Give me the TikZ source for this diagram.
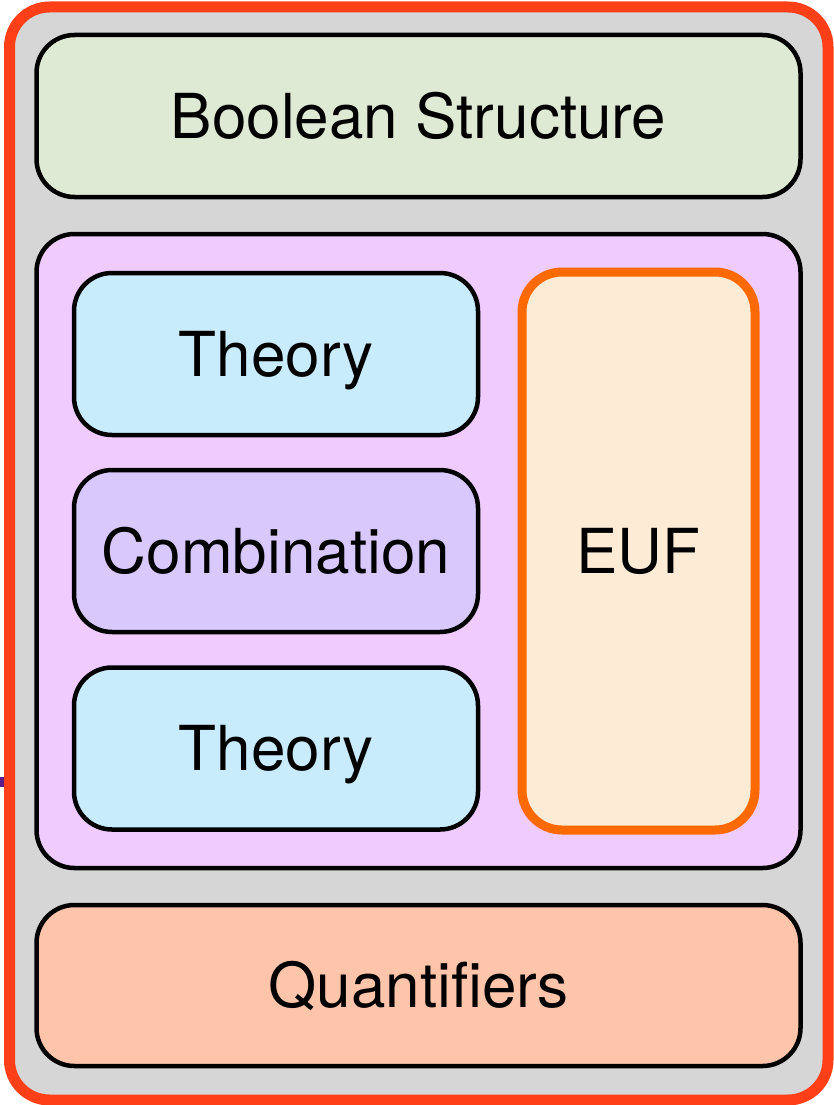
\documentclass[tikz,border=0pt]{standalone}
\usepackage{fontspec}
\setmainfont{TeX Gyre Heros}
\definecolor{framered}{HTML}{FF3F17}
\definecolor{framegray}{HTML}{D6D6D6}
\definecolor{boolgreen}{HTML}{DFEAD5}
\definecolor{theorypink}{HTML}{F0CCFE}
\definecolor{theorycyan}{HTML}{C8ECFB}
\definecolor{combviolet}{HTML}{D9C8FC}
\definecolor{eufcream}{HTML}{FDEBD5}
\definecolor{euforange}{HTML}{FF6A00}
\definecolor{quantsalmon}{HTML}{FEC5AB}
\definecolor{markpurple}{HTML}{5E1A8A}
\tikzset{
  layer/.style={draw=black, line width=4.5pt, rounded corners=38pt,
    rectangle, inner sep=0pt, text=black,
    font=\fontsize{62}{72}\selectfont, text height=44.5pt, text depth=0pt},
}
\begin{document}
\begin{tikzpicture}[x=1pt,y=-1pt]
  \useasboundingbox (0,0) rectangle (834,1105);
  % outer frame
  \node[layer, draw=framered, fill=framegray, line width=11pt, rounded corners=40pt,
        minimum width=818.5pt, minimum height=1093pt] (frame) at (418.75,553.5) {};
  % small mark at the left edge
  \fill[markpurple] (0,777) rectangle (4,787);
  % layers
  \node[layer, fill=boolgreen, minimum width=764pt, minimum height=162pt]
    (bool) at (418.5,116) {Boolean Structure};
  \node[layer, fill=theorypink, minimum width=764pt, minimum height=634pt]
    (theories) at (418.5,551) {};
  \node[layer, fill=theorycyan, minimum width=404pt, minimum height=162pt]
    (th1) at (276,354) {Theory};
  \node[layer, fill=combviolet, minimum width=404pt, minimum height=162pt]
    (comb) at (276,551) {Combination};
  \node[layer, fill=theorycyan, minimum width=404pt, minimum height=162pt]
    (th2) at (276,748.5) {Theory};
  \node[layer, draw=euforange, fill=eufcream, line width=9pt, rounded corners=40pt,
        minimum width=233pt, minimum height=558pt]
    (euf) at (638.5,551) {EUF};
  \node[layer, fill=quantsalmon, minimum width=764pt, minimum height=161pt]
    (quant) at (418.5,985.5) {Quantifiers};
\end{tikzpicture}
\end{document}
